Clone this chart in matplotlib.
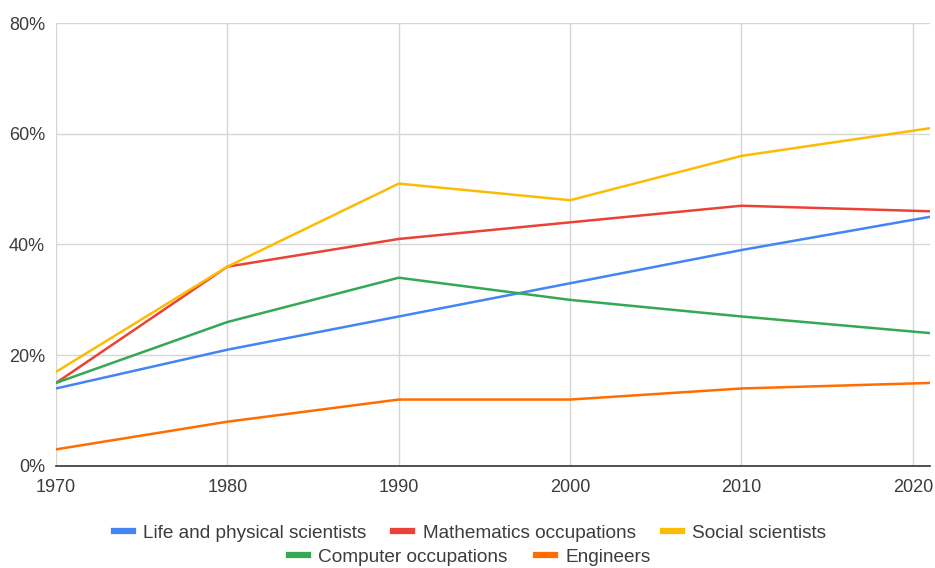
import matplotlib
matplotlib.use("Agg")
import matplotlib.pyplot as plt
from matplotlib.lines import Line2D
from matplotlib.ticker import FuncFormatter

plt.rcParams['font.family'] = ['Liberation Sans', 'DejaVu Sans']

years = [1970, 1980, 1990, 2000, 2010, 2021]
life_physical = [14, 21, 27, 33, 39, 45]
mathematics = [15, 36, 41, 44, 47, 46]
social = [17, 36, 51, 48, 56, 61]
computer = [15, 26, 34, 30, 27, 24]
engineers = [3, 8, 12, 12, 14, 15]

series = [
    ("Life and physical scientists", life_physical, "#4285F4"),
    ("Mathematics occupations", mathematics, "#EA4335"),
    ("Social scientists", social, "#FBBC04"),
    ("Computer occupations", computer, "#34A853"),
    ("Engineers", engineers, "#FF6D01"),
]
x_ticks = [1970, 1980, 1990, 2000, 2010, 2020]
y_ticks = [0, 20, 40, 60, 80]

W, H = 935, 568
fig = plt.figure(figsize=(W / 100, H / 100), dpi=100)
ax = fig.add_axes([56 / W, (H - 466) / H, (930 - 56) / W, (466 - 23) / H])

for name, vals, col in series:
    ax.plot(years, vals, color=col, lw=1.8, solid_capstyle='butt', zorder=3)

ax.set_xlim(1970, 2021)
ax.set_ylim(0, 80)
ax.set_xticks(x_ticks)
ax.set_yticks(y_ticks)
ax.yaxis.set_major_formatter(FuncFormatter(lambda v, p: f"{int(v)}%"))
ax.grid(True, color="#D6D6D6", lw=1.0, zorder=0)
for s in ["top", "right", "left"]:
    ax.spines[s].set_visible(False)
ax.spines["bottom"].set_color("#333333")
ax.spines["bottom"].set_linewidth(1.2)
ax.tick_params(length=0, labelsize=13, labelcolor="#3C3C3C")
ax.tick_params(axis='x', pad=9)
ax.tick_params(axis='y', pad=8)

def handle(col):
    return Line2D([0], [0], color=col, lw=4.5)

row1 = series[:3]
row2 = series[3:]
leg_kw = dict(frameon=False, fontsize=13.7, handlelength=1.0, handletextpad=0.55,
              labelcolor="#3C3C3C", loc="center", borderpad=0, borderaxespad=0)
fig.legend([handle(c) for _, _, c in row1], [n for n, _, _ in row1], ncol=3,
           columnspacing=1.4, bbox_to_anchor=(470 / W, 1 - 533 / H), **leg_kw)
fig.legend([handle(c) for _, _, c in row2], [n for n, _, _ in row2], ncol=2,
           columnspacing=1.5, bbox_to_anchor=(470 / W, 1 - 557 / H), **leg_kw)

fig.savefig("out.png", dpi=100, facecolor="white")
